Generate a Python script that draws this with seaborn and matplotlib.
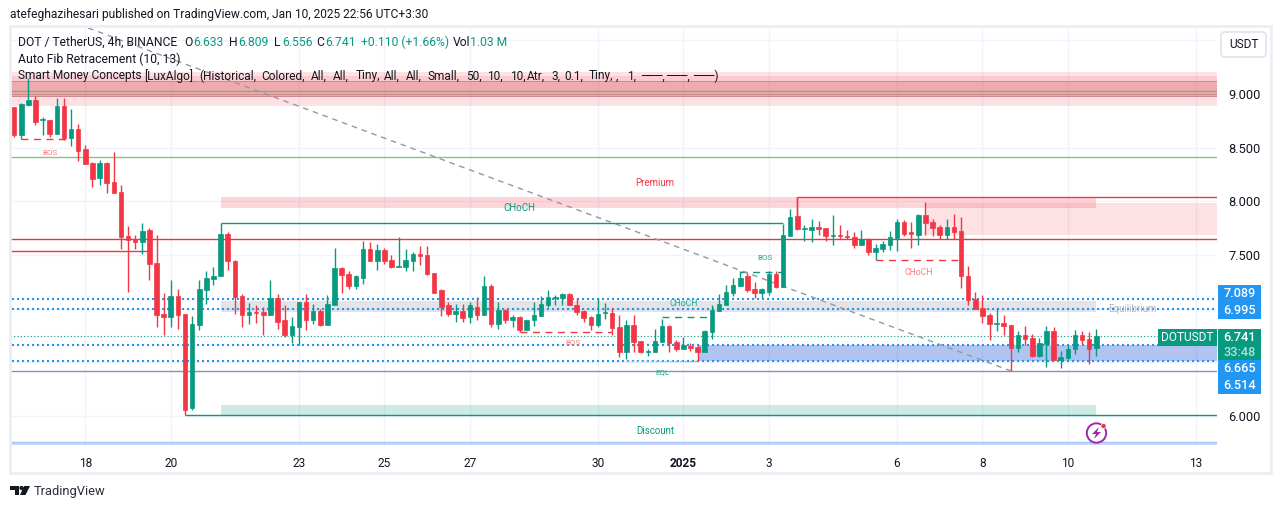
import numpy as np
import pandas as pd
import matplotlib.pyplot as plt
import seaborn as sns
from matplotlib.patches import Rectangle, FancyBboxPatch, Circle, Polygon
from matplotlib.transforms import Affine2D

# 4h candles
open_ = [8.88,8.62,8.90,8.945,8.76,8.76,8.63,8.89,8.59,8.67,
         8.49,8.36,8.22,8.36,8.18,8.09,7.68,7.65,7.62,7.73,
         7.43,6.95,6.92,7.12,6.95,6.07,6.85,7.17,7.28,7.30,
         7.70,7.44,7.12,6.94,6.97,6.97,6.94,7.10,6.89,6.75,
         6.83,7.06,6.89,6.98,6.85,7.03,7.38,7.32,7.21,7.29,
         7.56,7.44,7.55,7.45,7.39,7.39,7.44,7.51,7.50,7.33,
         7.17,7.03,6.95,6.98,6.92,7.02,6.94,7.21,6.86,6.99,
         6.89,6.92,6.80,6.89,6.93,7.03,7.10,7.10,7.14,7.03,
         6.98,6.92,6.85,6.96,6.96,6.83,6.60,6.85,6.70,6.60,
         6.60,6.69,6.84,6.69,6.62,6.65,6.64,6.60,6.78,6.98,
         7.03,7.15,7.21,7.30,7.18,7.15,7.16,7.32,7.20,7.68,
         7.86,7.74,7.73,7.76,7.75,7.68,7.69,7.68,7.67,7.59,
         7.65,7.53,7.56,7.59,7.66,7.81,7.71,7.69,7.87,7.81,
         7.76,7.69,7.76,7.72,7.30,7.09,7.01,6.94,6.86,6.87,
         6.85,6.63,6.75,6.73,6.56,6.67,6.79,6.52,6.54,6.62,
         6.75,6.72,6.633]
high = [8.88,8.92,9.15,8.98,8.79,8.76,8.96,8.96,8.86,8.72,
        8.53,8.37,8.39,8.37,8.46,8.15,7.77,7.69,7.80,7.75,
        7.69,7.15,7.27,7.18,6.95,6.93,7.27,7.35,7.39,7.70,
        7.71,7.45,7.14,7.05,7.03,7.02,7.27,7.14,7.03,6.92,
        7.06,7.14,7.04,7.00,7.13,7.57,7.39,7.35,7.31,7.63,
        7.62,7.60,7.57,7.50,7.67,7.56,7.53,7.58,7.58,7.33,
        7.18,7.06,7.04,7.04,7.06,7.11,7.30,7.23,7.06,7.00,
        6.94,6.93,6.89,7.06,7.12,7.17,7.13,7.15,7.15,7.10,
        6.99,6.93,7.10,7.05,7.01,6.94,6.89,6.94,6.70,6.62,
        6.81,6.90,6.85,6.71,6.74,6.68,6.66,6.80,7.03,7.14,
        7.22,7.29,7.35,7.33,7.25,7.19,7.35,7.35,7.79,7.93,
        8.04,7.78,7.84,7.82,7.75,7.87,7.78,7.73,7.71,7.73,
        7.66,7.60,7.63,7.72,7.84,7.83,7.81,7.88,7.99,7.84,
        7.78,7.84,7.88,7.85,7.40,7.16,7.13,6.96,7.01,6.94,
        6.85,6.79,6.84,6.76,6.73,6.84,6.83,6.61,6.66,6.80,
        6.79,6.78,6.809]
low = [8.60,8.58,8.89,8.71,8.62,8.60,8.63,8.57,8.52,8.38,
       8.35,8.13,8.15,8.08,8.08,7.56,7.16,7.56,7.51,7.27,
       6.83,6.75,6.83,6.81,6.01,6.06,6.80,7.04,7.22,7.30,
       7.36,6.95,6.83,6.86,6.87,6.75,6.94,6.81,6.74,6.68,
       6.66,6.80,6.86,6.84,6.85,7.03,7.15,7.18,7.18,7.23,
       7.44,7.36,7.42,7.38,7.39,7.35,7.35,7.41,7.31,7.15,
       6.93,6.93,6.88,6.88,6.87,6.89,6.94,6.83,6.81,6.87,
       6.83,6.78,6.80,6.84,6.93,7.02,7.03,7.03,7.03,6.94,
       6.88,6.80,6.83,6.90,6.75,6.55,6.53,6.60,6.59,6.56,
       6.60,6.69,6.60,6.61,6.62,6.61,6.51,6.60,6.72,6.98,
       7.03,7.12,7.21,7.16,7.10,7.10,7.13,7.19,7.20,7.68,
       7.73,7.63,7.62,7.69,7.63,7.59,7.65,7.65,7.57,7.59,
       7.50,7.45,7.53,7.55,7.54,7.68,7.57,7.59,7.69,7.68,
       7.65,7.65,7.65,7.19,7.03,7.00,6.87,6.71,6.79,6.75,
       6.42,6.60,6.66,6.55,6.55,6.46,6.52,6.45,6.53,6.58,
       6.67,6.48,6.556]
close = [8.62,8.91,8.945,8.74,8.77,8.63,8.89,8.59,8.67,8.47,
         8.35,8.21,8.36,8.17,8.08,7.67,7.64,7.62,7.72,7.42,
         6.94,6.92,7.12,6.94,6.06,6.86,7.18,7.29,7.30,7.70,
         7.44,7.11,6.94,6.97,6.96,6.94,7.10,6.88,6.75,6.84,
         7.06,6.89,6.98,6.85,7.04,7.38,7.31,7.21,7.30,7.56,
         7.44,7.55,7.44,7.39,7.40,7.45,7.51,7.49,7.32,7.15,
         7.02,6.95,6.98,6.91,7.03,6.94,7.21,6.86,6.99,6.89,
         6.92,6.80,6.89,6.94,7.04,7.11,7.11,7.14,7.03,6.97,
         6.91,6.85,6.95,6.97,6.82,6.60,6.85,6.69,6.60,6.61,
         6.70,6.84,6.68,6.62,6.66,6.63,6.60,6.79,6.99,7.04,
         7.16,7.22,7.29,7.17,7.15,7.18,7.32,7.20,7.69,7.85,
         7.74,7.75,7.76,7.74,7.68,7.69,7.68,7.67,7.59,7.65,
         7.53,7.57,7.60,7.67,7.81,7.70,7.70,7.87,7.80,7.75,
         7.69,7.76,7.71,7.30,7.08,7.00,6.93,6.86,6.87,6.84,
         6.63,6.75,6.72,6.56,6.68,6.79,6.52,6.55,6.62,6.75,
         6.71,6.62,6.741]

tick_idx = [10, 22, 40, 52, 64, 82, 94, 106, 124, 136, 148, 166]
tick_labels = ['18', '20', '23', '25', '27', '30', '2025', '3', '6', '8', '10', '13']
price_ticks = [6.0, 6.5, 7.0, 7.5, 8.0, 8.5, 9.0, 9.5]
price_labels = ['6.000', '', '', '7.500', '8.000', '8.500', '9.000', '']

UP = '#089981'
DOWN = '#f23645'
BLUE = '#2196f3'
TEXT = '#131722'
GRID = '#f0f3fa'

df = pd.DataFrame({'i': np.arange(len(open_)), 'open': open_, 'high': high, 'low': low, 'close': close})
df['up'] = df['close'] >= df['open']
df['bottom'] = df[['open', 'close']].min(axis=1)
df['height'] = (df['open'] - df['close']).abs()

sns.set_theme(style='white')
plt.rcParams['font.family'] = ['Roboto', 'DejaVu Sans']

fig = plt.figure(figsize=(12.81, 5.09), dpi=100, facecolor='white')
ax = fig.add_axes([10 / 1281, (509 - 446) / 509, 1207 / 1281, 418 / 509])

# pixel helper for the non-data furniture (top-left origin)
px = Affine2D().scale(1, -1).translate(0, 509)

# candle bodies
for up, color in [(True, UP), (False, DOWN)]:
    part = df[df['up'] == up]
    sns.barplot(data=part, x='i', y='height', bottom=part['bottom'].values, native_scale=True,
                width=0.64, color=color, saturation=1, errorbar=None, ax=ax,
                edgecolor=color, linewidth=0.5, zorder=6)
    ax.vlines(part['i'], part['low'], part['high'], color=color, lw=1.0, zorder=5)

ax.set_xlim(-0.58, 168.95)
ax.set_ylim(5.72, 9.616)

# zones
zones = [
    (29, 152, 7.94, 8.04, DOWN, 0.20),   # premium
    (128, 170, 7.69, 7.985, DOWN, 0.15),
    (29, 152, 6.97, 7.07, '#787b86', 0.20),  # equilibrium
    (29, 152, 6.01, 6.10, UP, 0.20),     # discount
    (96, 170, 6.514, 6.665, '#2157d5', 0.35),
    (-1, 170, 8.892, 9.206, DOWN, 0.15),
    (-1, 170, 8.985, 9.17, DOWN, 0.12),
    (-1, 170, 8.985, 9.122, '#c2333d', 0.22),
    (-1, 170, 5.725, 5.755, '#2962ff', 0.25),
]
for x0, x1, y0, y1, c, a in zones:
    ax.add_patch(Rectangle((x0, y0), x1 - x0, y1 - y0, facecolor=c, alpha=a, lw=0, zorder=2))

# horizontal levels
ax.hlines(9.026, -1, 170, color='#66bb6a', lw=0.9, zorder=3)
ax.hlines([9.122, 8.985, 8.998], -1, 170, color='#d0878d', lw=0.7, zorder=3)
ax.hlines(8.41, -1, 170, color='#81c784', lw=1.0, zorder=3)
ax.hlines(7.647, -1, 170, color='#e53935', lw=1.0, zorder=3)
ax.hlines(7.54, -1, 19, color=DOWN, lw=1.0, zorder=3)
ax.hlines(6.415, -1, 170, color='#8a91b5', lw=1.0, zorder=3)
ax.hlines(5.757, -1, 170, color='#a9c4f5', lw=1.0, zorder=3)
ax.hlines(8.04, 110, 170, color=DOWN, lw=1.0, zorder=4)
ax.vlines(110, 7.86, 8.04, color=DOWN, lw=1.0, zorder=4)
ax.hlines(7.795, 29, 108, color=UP, lw=1.0, zorder=4)
ax.vlines(29, 7.70, 7.795, color=UP, lw=1.0, zorder=4)
ax.hlines(6.005, 24, 170, color=UP, lw=1.0, zorder=4)

ax.hlines([7.089, 6.995, 6.665, 6.514], -1, 170, color=BLUE, lw=1.5,
          linestyles=[(0, (1.0, 1.4))], zorder=4)
ax.hlines(6.741, -1, 160.6, color=UP, lw=0.8, linestyles=[(0, (1, 2))], zorder=4)

# dashed structure lines
dashed = [(1, 8, 8.58, DOWN), (71, 84, 6.78, DOWN), (91, 98, 6.92, UP),
          (102, 108, 7.34, UP), (121, 133, 7.45, DOWN)]
for x0, x1, y, c in dashed:
    ax.hlines(y, x0, x1, color=c, lw=1.0, linestyles=[(0, (5, 4))], zorder=4)
ax.hlines(6.515, 86, 96, color='#7fcdbb', lw=1.0, linestyles=[(0, (2, 1.5))], zorder=4)

# fib trend line
ax.plot([10.4, 140], [9.616, 6.42], color='#9598a1', lw=1.0, ls=(0, (4, 3.5)), zorder=4.5)

# labels on the chart
notes = [
    (5, 8.45, 'BOS', '#f77c80', 5.8), (78.5, 6.68, 'BOS', '#f77c80', 5.8),
    (105.5, 7.47, 'BOS', '#22ab94', 5.8), (94, 7.05, 'CHoCH', '#22ab94', 6.2),
    (127, 7.34, 'CHoCH', '#f77c80', 6.2), (91, 6.41, 'EQL', '#22ab94', 5.8),
    (71, 7.935, 'CHoCH', '#089981', 7), (90, 8.175, 'Premium', DOWN, 7),
    (90, 5.86, 'Discount', UP, 7), (157, 7.0, 'Equilibrium', '#b2b5be', 7),
]
for x, y, s, c, fs in notes:
    ax.text(x, y, s, color=c, fontsize=fs, ha='center', va='center', zorder=7)

# axes
ax.set_xticks(tick_idx)
ax.set_xticklabels(tick_labels, fontsize=8.6, color=TEXT)
ax.get_xticklabels()[6].set_fontweight('bold')
ax.yaxis.tick_right()
ax.set_yticks(price_ticks)
ax.set_yticklabels(price_labels, fontsize=9.2, color=TEXT)
ax.tick_params(axis='x', length=0, pad=8)
ax.tick_params(axis='y', length=0, pad=8)
ax.set_xlabel('')
ax.set_ylabel('')
ax.grid(True, color=GRID, lw=1.0)
ax.set_axisbelow(True)
sns.despine(ax=ax, left=True, bottom=True, right=True, top=True)

# outer frame
fig.add_artist(Rectangle((10, 26), 1261, 447, transform=px, fill=False, edgecolor='#eceef3', lw=2))

def label(x, y, s, color=TEXT, size=8.7, ha='left', weight='normal'):
    return fig.text(x, y, s, transform=px, color=color, fontsize=size, ha=ha, va='center', fontweight=weight, zorder=10)

label(10, 14.5, 'atefeghazihesari published on TradingView.com, Jan 10, 2025 22:56 UTC+3:30', size=8.67)
label(18, 42, 'DOT / TetherUS, 4h, BINANCE')
x_pos = [184, 193, 229, 238, 274, 282, 316, 325, 361]
parts = ['O', '6.633', 'H', '6.809', 'L', '6.556', 'C', '6.741', '+0.110 (+1.66%)']
cols = [TEXT, UP, TEXT, UP, TEXT, UP, TEXT, UP, UP]
for x, s, c in zip(x_pos, parts, cols):
    label(x, 42, s, color=c)
label(453, 42, 'Vol', color=TEXT)
label(470, 42, '1.03 M', color=UP)
label(18, 59, 'Auto Fib Retracement (10, 13)', size=8.8)

# the indicator line, in pieces because its spacing is wider than Roboto's
smc_x = [18, 144, 199, 261, 311, 333, 356, 384, 406, 428, 466, 487, 510, 527, 551, 564, 589, 616, 627,
         641, 666, 693]
smc_s = ['Smart Money Concepts', '[LuxAlgo]', '(Historical,', 'Colored,', 'All,', 'All,', 'Tiny,', 'All,', 'All,',
         'Small,', '50,', '10,', '10,', 'Atr,', '3,', '0.1,', 'Tiny,', ',', '1,',
         '\u2500\u2500\u2500,', '\u2500\u2500\u2500,', '\u2500\u2500\u2500)']
for x, s in zip(smc_x, smc_s):
    label(x, 76, s, size=8.6)

# USDT button
fig.add_artist(FancyBboxPatch((1221, 32), 45, 25, boxstyle='round,pad=0,rounding_size=4', transform=px,
                              facecolor='white', edgecolor='#e0e3eb', lw=1.2))
label(1243.5, 44.5, 'USDT', ha='center', size=8.6)

# price tags
for y0, y1, c in [(285, 319, BLUE), (329, 360, UP), (360, 394, BLUE)]:
    fig.add_artist(Rectangle((1218, y0), 43, y1 - y0, transform=px, facecolor=c, lw=0))
fig.add_artist(Rectangle((1158, 329), 59, 17, transform=px, facecolor=UP, lw=0, zorder=8))
label(1187.5, 337.5, 'DOTUSDT', color='white', ha='center', size=8.6).set_zorder(11)
for y, s, c in [(293.5, '7.089', 'white'), (310.5, '6.995', 'white'), (337.5, '6.741', 'white'),
                (352, '33:48', '#b5e0d8'), (368.5, '6.665', 'white'), (385.5, '6.514', 'white')]:
    label(1240, y, s, color=c, ha='center', size=9.2, weight='medium')

# purple bolt badge
fig.add_artist(Circle((1096.5, 433), 9.7, transform=px, fill=False, edgecolor='#9c27b0', lw=1.4, zorder=9))
fig.add_artist(Polygon([(1099, 427), (1092, 434), (1096, 434), (1094, 439), (1101, 432), (1097, 432)],
                       transform=px, facecolor='#9c27b0', lw=0, zorder=9))
fig.add_artist(Circle((1103.5, 426), 2.6, transform=px, facecolor=DOWN, edgecolor='white', lw=0.5, zorder=10))

# TradingView logo
fig.add_artist(Polygon([(10, 486), (19, 486), (19, 495), (15, 495), (15, 490), (10, 490)],
                       transform=px, facecolor=TEXT, lw=0))
fig.add_artist(Circle((21.5, 488), 2.1, transform=px, facecolor=TEXT, lw=0))
fig.add_artist(Polygon([(24, 486), (30, 486), (25.5, 495), (20, 495)], transform=px, facecolor=TEXT, lw=0))
label(33.5, 491.5, 'TradingView', size=9.3, color='#2a2e39')

plt.savefig('out.png', dpi=100)
